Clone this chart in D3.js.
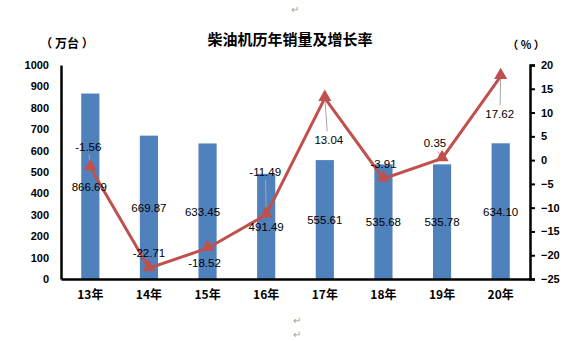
<!DOCTYPE html>
<html>
<head>
<meta charset="utf-8">
<script src="https://cdn.jsdelivr.net/npm/d3@7"></script>
<style>
  body { margin: 0; background: #fff; }
  svg { display: block; font-family: "Liberation Sans", Arial, sans-serif; }
</style>
</head>
<body>
<svg id="chart" width="586" height="341"></svg>
<script>
// data
const years = ['13年', '14年', '15年', '16年', '17年', '18年', '19年', '20年'];
const sales = [866.69, 669.87, 633.45, 491.49, 555.61, 535.68, 535.78, 634.10];
const growth = [-1.56, -22.71, -18.52, -11.49, 13.04, -3.91, 0.35, 17.62];
const leftTicks = [0, 100, 200, 300, 400, 500, 600, 700, 800, 900, 1000];
const rightTicks = [-25, -20, -15, -10, -5, 0, 5, 10, 15, 20];

// label placement (layout only)
const rateLabelOffset = [[-2, -21], [0, -15], [-3, 15], [-1, -43], [4, 42], [0, -15], [-7, -15], [-1, 38]];
const hasLeader = [true, false, false, true, true, false, true, true];
const barLabelTop = [187, 208, 212, 227, 220, 222, 222, 212];
const barLabelDx = [-1, 0, -5, 0, 0, 0, 0, 0];

const svg = d3.select('#chart');
const plot = { left: 61, right: 530, top: 65, bottom: 279 };

const x = d3.scaleBand()
  .domain(years)
  .range([plot.left, plot.right])
  .paddingInner(0.69)
  .paddingOuter(0.345);
const yLeft = d3.scaleLinear().domain([0, 1000]).range([plot.bottom, plot.top]);
const yRight = d3.scaleLinear().domain([-25, 20]).range([plot.bottom, plot.top]);
const cx = d => x(d) + x.bandwidth() / 2;

// title and units
svg.append('text')
  .attr('x', 290).attr('y', 45)
  .attr('text-anchor', 'middle')
  .style('font-family', '"Noto Sans CJK SC", sans-serif')
  .style('font-size', '15px').style('font-weight', 'bold')
  .text('柴油机历年销量及增长率');
svg.append('text')
  .attr('x', 67).attr('y', 48)
  .attr('text-anchor', 'middle')
  .style('font-family', '"Noto Sans CJK SC", sans-serif')
  .style('font-size', '12px').style('font-weight', 'bold')
  .text('（ 万台 ）');
svg.append('text')
  .attr('x', 526).attr('y', 49)
  .attr('text-anchor', 'middle')
  .style('font-family', '"Noto Sans CJK SC", sans-serif')
  .style('font-size', '11px').style('font-weight', 'bold')
  .text('（ % ）');

// bars
svg.append('g').selectAll('rect')
  .data(sales)
  .join('rect')
  .attr('x', (d, i) => x(years[i]))
  .attr('y', d => yLeft(d))
  .attr('width', x.bandwidth())
  .attr('height', d => yLeft(0) - yLeft(d))
  .attr('fill', '#4F81BD');

// axes
const leftAxis = svg.append('g')
  .attr('transform', `translate(${plot.left},0)`)
  .call(d3.axisLeft(yLeft).tickValues(leftTicks).tickFormat(d3.format('d')).tickSize(0).tickPadding(12));
leftAxis.select('.domain').attr('stroke', '#000').attr('stroke-width', 2.5);
leftAxis.selectAll('text').style('font-size', '11px').style('font-weight', 'bold').attr('fill', '#000');

const rightAxis = svg.append('g')
  .attr('transform', `translate(${plot.right},0)`)
  .call(d3.axisRight(yRight).tickValues(rightTicks).tickSizeInner(5).tickSizeOuter(5).tickPadding(6));
rightAxis.select('.domain').attr('stroke', '#000').attr('stroke-width', 2.5);
rightAxis.selectAll('.tick line').attr('stroke', '#000').attr('stroke-width', 2);
rightAxis.selectAll('text').style('font-size', '11px').style('font-weight', 'bold').attr('fill', '#000');

const bottomAxis = svg.append('g')
  .attr('transform', `translate(0,${plot.bottom})`)
  .call(d3.axisBottom(x).tickSize(0).tickPadding(11).tickSizeOuter(0));
bottomAxis.select('.domain').attr('stroke', '#000').attr('stroke-width', 2.5);
bottomAxis.selectAll('text')
  .style('font-family', '"Noto Sans CJK SC", sans-serif')
  .style('font-size', '12px').style('font-weight', 'bold').attr('fill', '#000');

// growth line
const line = d3.line()
  .x((d, i) => cx(years[i]))
  .y(d => yRight(d));
svg.append('path')
  .datum(growth)
  .attr('d', line)
  .attr('fill', 'none')
  .attr('stroke', '#C0504D')
  .attr('stroke-width', 3)
  .attr('stroke-linejoin', 'miter');

// leader lines for labels placed away from their point
const leaders = growth
  .map((v, i) => ({ v, i }))
  .filter(d => hasLeader[d.i]);
svg.append('g').selectAll('line')
  .data(leaders)
  .join('line')
  .attr('x1', d => cx(years[d.i]) + rateLabelOffset[d.i][0] * 0.6)
  .attr('y1', d => yRight(d.v) + rateLabelOffset[d.i][1] + (rateLabelOffset[d.i][1] < 0 ? 8 : -9))
  .attr('x2', d => cx(years[d.i]))
  .attr('y2', d => yRight(d.v))
  .attr('stroke', '#A6A6A6')
  .attr('stroke-width', 1);

const tri = d3.symbol().type(d3.symbolTriangle).size(75);
svg.append('g').selectAll('path')
  .data(growth)
  .join('path')
  .attr('d', tri)
  .attr('transform', (d, i) => `translate(${cx(years[i])},${yRight(d) - 1})`)
  .attr('fill', '#C0504D');

// growth labels
svg.append('g').selectAll('text')
  .data(growth)
  .join('text')
  .attr('x', (d, i) => cx(years[i]) + rateLabelOffset[i][0])
  .attr('y', (d, i) => yRight(d) + rateLabelOffset[i][1] + 4)
  .attr('text-anchor', 'middle')
  .style('font-size', '11.5px')
  .attr('fill', '#000')
  .text(d => d.toFixed(2));

// bar labels
svg.append('g').selectAll('text')
  .data(sales)
  .join('text')
  .attr('x', (d, i) => cx(years[i]) + barLabelDx[i])
  .attr('y', (d, i) => barLabelTop[i] + 4)
  .attr('text-anchor', 'middle')
  .style('font-size', '11.5px')
  .attr('fill', '#000')
  .text(d => d.toFixed(2));

// paragraph marks from the source document
[[295, 13], [297, 324], [297, 338]].forEach(([px, py]) => {
  svg.append('text')
    .attr('x', px).attr('y', py)
    .attr('text-anchor', 'middle')
    .style('font-size', '10px')
    .attr('fill', '#A0A0A0')
    .text('↵');
});
</script>
</body>
</html>
